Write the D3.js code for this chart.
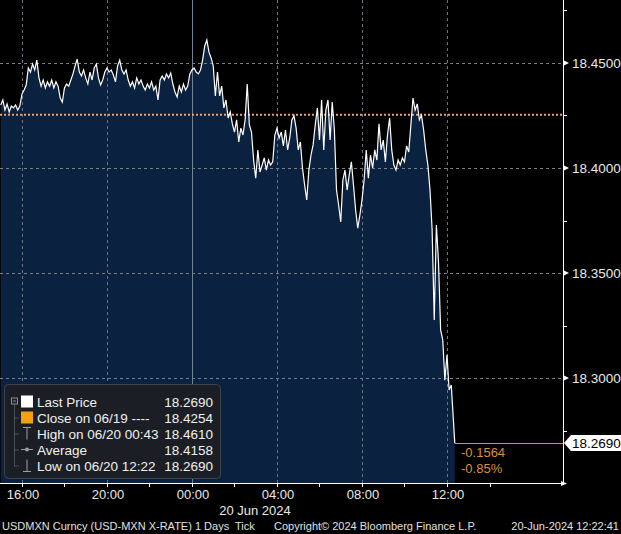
<!DOCTYPE html>
<html><head><meta charset="utf-8">
<script src="https://cdn.jsdelivr.net/npm/d3@7"></script>
<style>
body{margin:0;background:#000;}
svg{display:block;}
text{font-family:"Liberation Sans",Arial,sans-serif;}
</style></head><body>
<svg id="c" width="621" height="534"></svg>
<script>
// ---------- data ----------
const startTime = "2024-06-19T15:00:00";
const stepMinutes = 6;
const prices = [
18.4300,18.4324,18.4276,18.4305,18.4267,18.4295,18.4286,18.4300,18.4276,18.4295,
18.4352,18.4371,18.4395,18.4476,18.4457,18.4495,18.4467,18.4514,18.4429,18.4390,
18.4419,18.4381,18.4410,18.4390,18.4419,18.4381,18.4410,18.4390,18.4333,18.4314,
18.4381,18.4400,18.4390,18.4419,18.4448,18.4486,18.4519,18.4457,18.4438,18.4467,
18.4429,18.4400,18.4457,18.4419,18.4476,18.4495,18.4429,18.4395,18.4419,18.4457,
18.4476,18.4457,18.4467,18.4443,18.4410,18.4486,18.4514,18.4467,18.4448,18.4467,
18.4419,18.4390,18.4410,18.4381,18.4429,18.4400,18.4419,18.4390,18.4371,18.4400,
18.4381,18.4410,18.4371,18.4390,18.4324,18.4419,18.4438,18.4419,18.4448,18.4429,
18.4452,18.4400,18.4362,18.4338,18.4390,18.4362,18.4400,18.4371,18.4390,18.4448,
18.4467,18.4476,18.4457,18.4448,18.4467,18.4514,18.4581,18.4610,18.4552,18.4524,
18.4486,18.4343,18.4457,18.4343,18.4390,18.4286,18.4324,18.4238,18.4267,18.4210,
18.4171,18.4229,18.4124,18.4190,18.4157,18.4229,18.4400,18.4205,18.4171,18.4038,
18.3952,18.4086,18.3981,18.4014,18.4048,18.3990,18.4038,18.4014,18.4029,18.4157,
18.4190,18.4143,18.4171,18.4105,18.4181,18.4086,18.4143,18.4229,18.4248,18.4190,
18.4086,18.4124,18.4000,18.3919,18.3848,18.3990,18.4062,18.4110,18.4205,18.4286,
18.4133,18.4324,18.4086,18.4276,18.4324,18.4133,18.4314,18.4181,18.3895,18.3824,
18.3743,18.3943,18.3990,18.3895,18.3967,18.4029,18.3919,18.3800,18.3714,18.3776,
18.3848,18.3943,18.4086,18.3952,18.4062,18.4000,18.4086,18.4038,18.4210,18.4086,
18.4133,18.4029,18.4157,18.4238,18.4086,18.4014,18.3990,18.4038,18.4014,18.4048,
18.4029,18.4105,18.4076,18.4205,18.4333,18.4276,18.4305,18.4229,18.4252,18.4181,
18.4086,18.4014,18.3895,18.3705,18.3276,18.3729,18.3552,18.3229,18.3181,18.2990,
18.3110,18.2943,18.2967
];
const lastTime = "2024-06-20T12:22:00";
const lastPrice = 18.2690;
const closePrice = 18.4254;
const yTicks = [18.30, 18.35, 18.40, 18.45];
const yMinorTicks = [18.275, 18.325, 18.375, 18.425, 18.475];
const xTickLabels = ["16:00","20:00","00:00","04:00","08:00","12:00"];
const xTickTimes = ["2024-06-19T16:00:00","2024-06-19T20:00:00","2024-06-20T00:00:00",
                    "2024-06-20T04:00:00","2024-06-20T08:00:00","2024-06-20T12:00:00"];
const xMinorTimes = ["2024-06-19T18:00:00","2024-06-19T22:00:00","2024-06-20T02:00:00",
                     "2024-06-20T06:00:00","2024-06-20T10:00:00","2024-06-20T14:00:00"];
const dateLabel = "20 Jun 2024";
const legendLabels = ["Last Price","Close on 06/19 ----","High on 06/20 00:43","Average","Low on 06/20 12:22"];
const legendValues = ["18.2690","18.4254","18.4610","18.4158","18.2690"];
const changeAbs = "-0.1564";
const changePct = "-0.85%";
const footerLeft = "USDMXN Curncy (USD-MXN X-RATE) 1 Days  Tick";
const footerMid = "Copyright\u00A9 2024 Bloomberg Finance L.P.";
const footerRight = "20-Jun-2024 12:22:41";

// ---------- build ----------
const parse = s => new Date(s);
const t0 = parse(startTime).getTime();
const data = prices.map((v,i)=>({t:new Date(t0 + i*stepMinutes*60000), v}));
data.push({t:parse(lastTime), v:lastPrice});

const svg = d3.select("#c");
const W = 621, H = 534;
const axisX = 563, axisY = 483;

const x = d3.scaleTime()
  .domain([parse("2024-06-19T14:58:00"), parse("2024-06-20T17:27:30")])
  .range([0, axisX]);
const y = d3.scaleLinear().domain([18.30, 18.45]).range([378, 63]);

svg.append("rect").attr("width",W).attr("height",H).attr("fill","#000");

// area
svg.append("path").datum(data)
  .attr("d", d3.area().x(d=>x(d.t)).y0(axisY).y1(d=>y(d.v)))
  .attr("fill","#0a2140");

// horizontal grid
svg.append("g").selectAll("line").data(yTicks).join("line")
  .attr("x1",0).attr("x2",axisX).attr("y1",d=>y(d)+0.5).attr("y2",d=>y(d)+0.5)
  .attr("stroke","#7a7f86").attr("stroke-width",1).attr("stroke-dasharray","3,3");

// vertical grid
svg.append("g").selectAll("line").data(xTickTimes).join("line")
  .attr("x1",d=>Math.round(x(parse(d)))+0.5).attr("x2",d=>Math.round(x(parse(d)))+0.5)
  .attr("y1",0).attr("y2",axisY)
  .attr("stroke",(d,i)=>i===2?"#6f8296":"#6a7480")
  .attr("stroke-dasharray",(d,i)=>i===2?null:"3,3");

// close line
svg.append("line")
  .attr("x1",0).attr("x2",axisX).attr("y1",y(closePrice)).attr("y2",y(closePrice))
  .attr("stroke","#f0a060").attr("stroke-width",2).attr("stroke-dasharray","2,2");

// price line
svg.append("path").datum(data)
  .attr("d", d3.line().x(d=>x(d.t)).y(d=>y(d.v)))
  .attr("fill","none").attr("stroke","#fff").attr("stroke-width",1.2);

// last price horizontal line
const lastX = x(parse(lastTime));
svg.append("line").attr("x1",lastX).attr("x2",axisX)
  .attr("y1",Math.round(y(lastPrice))+0.5).attr("y2",Math.round(y(lastPrice))+0.5)
  .attr("stroke","#e08a40").attr("stroke-width",1);
svg.append("text").attr("x",461).attr("y",457).text(changeAbs)
  .attr("fill","#d9903c").attr("font-size",13);
svg.append("text").attr("x",461).attr("y",473).text(changePct)
  .attr("fill","#d9903c").attr("font-size",13);

// right axis
const gy = svg.append("g");
gy.append("line").attr("x1",axisX+0.5).attr("x2",axisX+0.5).attr("y1",0).attr("y2",axisY)
  .attr("stroke","#fff");
gy.selectAll("path.maj").data(yTicks).join("path")
  .attr("d",d=>`M${axisX},${y(d)-3}L${axisX+6},${y(d)}L${axisX},${y(d)+3}Z`)
  .attr("fill","#fff");
gy.selectAll("line.min").data(yMinorTicks).join("line")
  .attr("x1",axisX).attr("x2",axisX+4).attr("y1",d=>Math.round(y(d))+0.5).attr("y2",d=>Math.round(y(d))+0.5)
  .attr("stroke","#fff");
gy.selectAll("text").data(yTicks).join("text")
  .attr("x",572).attr("y",d=>y(d)+5).text(d=>d3.format(".4f")(d))
  .attr("fill","#e8e8e8").attr("font-size",13.5);

// last price tag
const ly = y(lastPrice);
svg.append("path")
  .attr("d",`M${axisX+1},${ly}L${axisX+8},${ly-8}L621,${ly-8}L621,${ly+8}L${axisX+8},${ly+8}Z`)
  .attr("fill","#fff");
svg.append("text").attr("x",572).attr("y",ly+5).text(d3.format(".4f")(lastPrice))
  .attr("fill","#000").attr("font-size",13.5);

// bottom axis
const gx = svg.append("g");
gx.append("line").attr("x1",0).attr("x2",axisX).attr("y1",axisY+0.5).attr("y2",axisY+0.5)
  .attr("stroke","#fff");
gx.append("path").attr("d",`M${axisX-2},${axisY-2}L${axisX+4},${axisY+0.5}L${axisX-2},${axisY+3}Z`).attr("fill","#fff");
gx.selectAll("line.t").data(xTickTimes.concat(xMinorTimes)).join("line")
  .attr("x1",d=>Math.round(x(parse(d)))+0.5).attr("x2",d=>Math.round(x(parse(d)))+0.5)
  .attr("y1",axisY).attr("y2",axisY+4).attr("stroke","#fff");
gx.selectAll("text").data(xTickLabels).join("text")
  .attr("x",(d,i)=>x(parse(xTickTimes[i]))+1).attr("y",499)
  .attr("text-anchor","middle").text(d=>d)
  .attr("fill","#e8e8e8").attr("font-size",13);
svg.append("text").attr("x",255).attr("y",515).attr("text-anchor","middle")
  .text(dateLabel).attr("fill","#e8e8e8").attr("font-size",13);

// footer
svg.append("text").attr("x",2).attr("y",530).text(footerLeft).attr("fill","#e0e0e0").attr("font-size",11).attr("xml:space","preserve").style("white-space","pre");
svg.append("text").attr("x",274).attr("y",530).text(footerMid).attr("fill","#e0e0e0").attr("font-size",11);
svg.append("text").attr("x",619).attr("y",530).attr("text-anchor","end").text(footerRight).attr("fill","#e0e0e0").attr("font-size",11);

// legend
const lg = svg.append("g");
lg.append("rect").attr("x",4.5).attr("y",384.5).attr("width",216).attr("height",94).attr("rx",4)
  .attr("fill","#1b1f25").attr("stroke","#3e444c");
const rowY = i => 401.5 + i*16;
lg.append("rect").attr("x",11.5).attr("y",rowY(0)-3.5).attr("width",6).attr("height",6)
  .attr("fill","none").attr("stroke","#8a8f96");
lg.append("line").attr("x1",13).attr("x2",16).attr("y1",rowY(0)-0.5).attr("y2",rowY(0)-0.5).attr("stroke","#8a8f96");
lg.append("line").attr("x1",14.5).attr("x2",14.5).attr("y1",rowY(0)+3).attr("y2",rowY(4))
  .attr("stroke","#7a7f86").attr("stroke-dasharray","1,1");
[1,2,3,4].forEach(i=>lg.append("line").attr("x1",14.5).attr("x2",19).attr("y1",rowY(i)+0.5).attr("y2",rowY(i)+0.5)
  .attr("stroke","#7a7f86").attr("stroke-dasharray","1,1"));
lg.append("rect").attr("x",21).attr("y",rowY(0)-6).attr("width",12).attr("height",12).attr("fill","#fff");
lg.append("rect").attr("x",21).attr("y",rowY(1)-6).attr("width",12).attr("height",12).attr("fill","#f5a011");
// high icon
lg.append("path").attr("d",`M23,${rowY(2)-6}H31M27,${rowY(2)-6}V${rowY(2)+6}`).attr("stroke","#9a9fa6").attr("fill","none");
// average icon
lg.append("path").attr("d",`M21,${rowY(3)}H33`).attr("stroke","#9a9fa6");
lg.append("circle").attr("cx",27).attr("cy",rowY(3)).attr("r",2).attr("fill","#9a9fa6");
// low icon
lg.append("path").attr("d",`M27,${rowY(4)-6}V${rowY(4)+6}M23,${rowY(4)+6}H31`).attr("stroke","#9a9fa6").attr("fill","none");
lg.selectAll("text.l").data(legendLabels).join("text")
  .attr("x",37).attr("y",(d,i)=>rowY(i)+5).text(d=>d)
  .attr("fill","#f0f0f0").attr("font-size",13.5);
lg.selectAll("text.v").data(legendValues).join("text")
  .attr("x",213).attr("y",(d,i)=>rowY(i)+5).attr("text-anchor","end").text(d=>d)
  .attr("fill","#f0f0f0").attr("font-size",13.5);
</script>
</body></html>
